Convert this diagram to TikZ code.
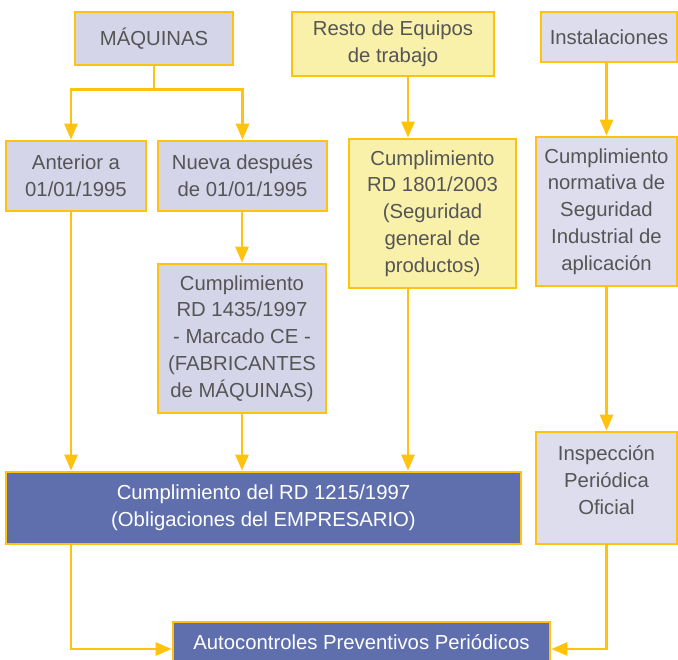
\documentclass[tikz,border=0pt]{standalone}
\usepackage{fontspec}
\setmainfont{Liberation Sans}
\usetikzlibrary{arrows.meta}
\definecolor{gold}{HTML}{FFC20E}
\definecolor{lav}{HTML}{D5D5EA}
\definecolor{lavlight}{HTML}{DDDDEE}
\definecolor{yel}{HTML}{F9F0AA}
\definecolor{dblue}{HTML}{5F6FAE}
\definecolor{txt}{HTML}{555555}
\begin{document}
\begin{tikzpicture}[x=1pt,y=-1pt,
  box/.style={draw=gold, line width=2.7pt, inner sep=0pt, align=center, text=txt,
    font=\fontsize{20.3}{26.8}\selectfont},
  lavbox/.style={box, fill=lav},
  lavlbox/.style={box, fill=lavlight},
  yelbox/.style={box, fill=yel},
  bluebox/.style={box, fill=dblue, text=white},
  plain/.style={align=center, text=txt, inner sep=0pt, font=\fontsize{20.3}{26.8}\selectfont},
  conn/.style={draw=gold, line width=2.7pt},
  arr/.style={conn, -{Triangle[width=13pt,length=16pt]}}]
\useasboundingbox (0,0) rectangle (678,660);

\node[lavbox, minimum width=158pt, minimum height=53pt] (maq) at (154,38.5) {MÁQUINAS};
\node[yelbox, minimum width=202pt, minimum height=64pt] (resto) at (393,44) {Resto de Equipos\\de trabajo};
\node[lavlbox, minimum width=136pt, minimum height=50pt] (inst) at (609,37) {Instalaciones};

\node[lavbox, minimum width=140pt, minimum height=70pt] (ant) at (76,176) {Anterior a\\01/01/1995};
\node[lavbox, minimum width=169pt, minimum height=70pt] (nue) at (242.5,176) {Nueva después\\de 01/01/1995};
\node[yelbox, minimum width=167pt, minimum height=149pt] (rd1801) at (432.5,213.5) {Cumplimiento\\RD 1801/2003\\(Seguridad\\general de\\productos)};
\node[lavlbox, minimum width=141pt, minimum height=149pt] (norm) at (606.5,211.5) {Cumplimiento\\normativa de\\Seguridad\\Industrial de\\aplicación};

\node[lavbox, minimum width=168pt, minimum height=149pt] (rd1435) at (242,338.5) {Cumplimiento\\RD 1435/1997\\- Marcado CE -\\(FABRICANTES\\de MÁQUINAS)};

\node[bluebox, minimum width=515pt, minimum height=72pt] (rd1215) at (263.5,508) {Cumplimiento del RD 1215/1997\\(Obligaciones del EMPRESARIO)};
\node[lavlbox, minimum width=141pt, minimum height=112pt] (insp) at (606.5,488) {};
\node[plain] (insptxt) at ([yshift=8pt]insp.center) {Inspección\\Periódica\\Oficial};

\node[bluebox, minimum width=377pt, minimum height=40pt] (auto) at (361.5,642) {Autocontroles Preventivos Periódicos};

\coordinate (j) at ([yshift=-23pt]maq.south);
\draw[conn] (maq.south) -- (j);
\draw[arr] (j) -| ([xshift=-5pt]ant.north);
\draw[arr] (j) -| (nue.north);
\draw[arr] ([xshift=15pt]resto.south) -- ([xshift=15pt]resto.south |- rd1801.north);
\draw[arr] (inst.south -| norm.north) -- (norm.north);

\draw[arr] ([xshift=-5pt]ant.south) -- ([xshift=-5pt]ant.south |- rd1215.north);
\draw[arr] (nue.south -| rd1435.north) -- (rd1435.north);
\draw[arr] (rd1435.south) -- (rd1435.south |- rd1215.north);
\draw[arr] ([xshift=-24.5pt]rd1801.south) -- ([xshift=-24.5pt]rd1801.south |- rd1215.north);
\draw[arr] (norm.south) -- (insp.north);

\draw[arr] ([xshift=-5pt]ant.south |- rd1215.south) |- ([yshift=-7pt]auto.west);
\draw[arr] (insp.south) |- ([yshift=-7pt]auto.east);
\end{tikzpicture}
\end{document}
